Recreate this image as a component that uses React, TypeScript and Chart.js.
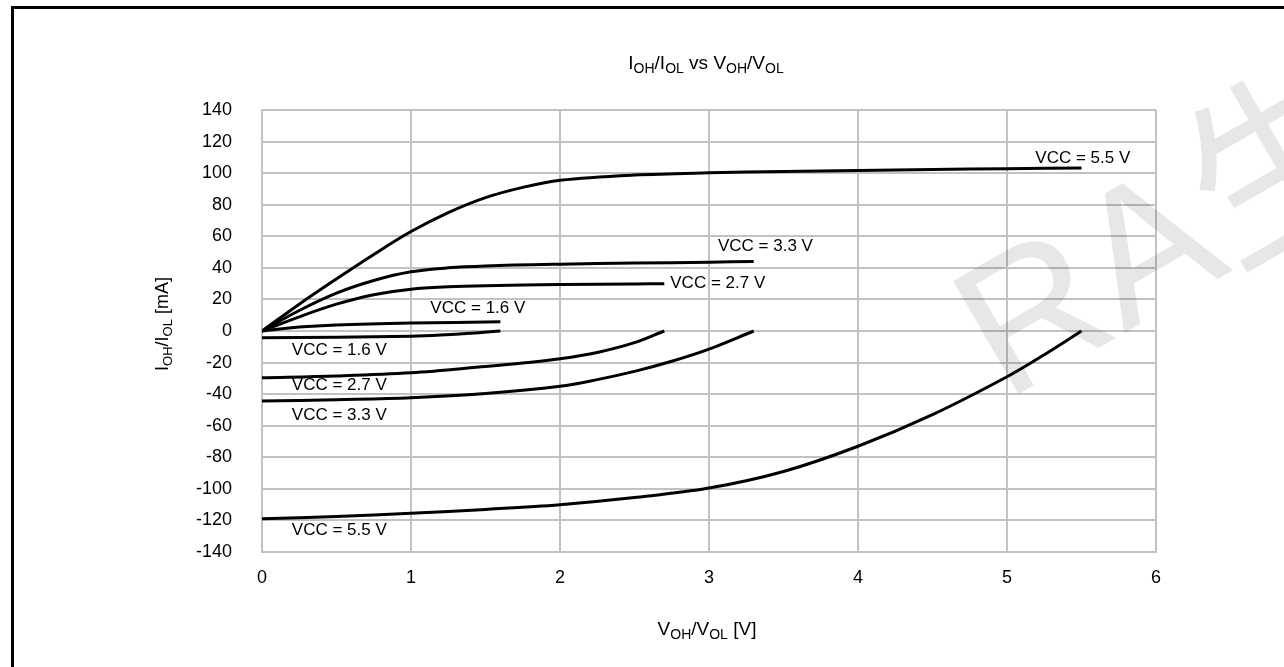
import React, { useEffect, useRef } from "react";
import { Chart, registerables } from "chart.js";

Chart.register(...registerables);

// ---- data ----
const xTickMin = 0;
const xTickMax = 6;
const xTickStep = 1;
const yTickMin = -140;
const yTickMax = 140;
const yTickStep = 20;

// source (positive) curves
const src55V = [0, 0.25, 0.5, 0.75, 1, 1.25, 1.5, 1.75, 2, 2.5, 3, 3.5, 4, 4.5, 5, 5.5];
const src55I = [0, 17, 33, 48.5, 63, 75, 84.5, 91, 95.5, 98.8, 100.2, 101, 101.7, 102.3, 102.8, 103.3];
const src33V = [0, 0.25, 0.5, 0.75, 1, 1.25, 1.5, 2, 2.5, 3, 3.3];
const src33I = [0, 13, 24, 32, 37.5, 40, 41.2, 42.3, 43, 43.6, 44];
const src27V = [0, 0.25, 0.5, 0.75, 1, 1.25, 1.5, 2, 2.5, 2.7];
const src27I = [0, 9, 17, 23, 26.5, 28, 28.7, 29.4, 29.8, 30];
const src16V = [0, 0.25, 0.5, 1, 1.6];
const src16I = [0, 2.5, 3.8, 5, 5.8];

// sink (negative) curves
const sink16V = [0, 0.5, 1, 1.2, 1.4, 1.6];
const sink16I = [-4.3, -4, -3.3, -2.6, -1.5, 0];
const sink27V = [0, 0.5, 1, 1.5, 1.75, 2, 2.25, 2.5, 2.7];
const sink27I = [-29.6, -28.5, -26.5, -22.5, -20.3, -17.6, -13.6, -7.4, 0];
const sink33V = [0, 0.5, 1, 1.5, 2, 2.25, 2.5, 2.75, 3, 3.3];
const sink33I = [-44.4, -43.5, -42.3, -39.6, -35, -30.8, -25.6, -19.2, -11.5, 0];
const sink55V = [0, 0.5, 1, 1.5, 2, 2.5, 3, 3.5, 4, 4.5, 5, 5.25, 5.5];
const sink55I = [-119, -117.5, -115.5, -113, -110, -105.5, -99.5, -89, -73, -53, -29, -15, 0];

// curve annotations (data coords of the left/middle of the text)
const labelTexts = [
  "VCC = 5.5 V",
  "VCC = 3.3 V",
  "VCC = 2.7 V",
  "VCC = 1.6 V",
  "VCC = 1.6 V",
  "VCC = 2.7 V",
  "VCC = 3.3 V",
  "VCC = 5.5 V",
];
const labelV = [5.19, 3.06, 2.74, 1.13, 0.2, 0.2, 0.2, 0.2];
const labelI = [109.6, 53.4, 30.4, 14.6, -12, -34.2, -53.2, -126.4];

const watermarkText = "RA生";

type Part = { t: string; sub?: boolean };
const titleParts: Part[] = [
  { t: "I" }, { t: "OH", sub: true }, { t: "/I" }, { t: "OL", sub: true },
  { t: " vs V" }, { t: "OH", sub: true }, { t: "/V" }, { t: "OL", sub: true },
];
const xTitleParts: Part[] = [
  { t: "V" }, { t: "OH", sub: true }, { t: "/V" }, { t: "OL", sub: true }, { t: " [V]" },
];
const yTitleParts: Part[] = [
  { t: "I" }, { t: "OH", sub: true }, { t: "/I" }, { t: "OL", sub: true }, { t: " [mA]" },
];

const FONT = '"Liberation Sans", Arial, sans-serif';

function pts(xs: number[], ys: number[]) {
  return xs.map((x, i) => ({ x, y: ys[i] }));
}

function drawRich(
  ctx: CanvasRenderingContext2D,
  parts: Part[],
  cx: number,
  baseline: number,
  mainSize: number,
  subSize: number,
  subShift: number
) {
  let w = 0;
  for (const p of parts) {
    ctx.font = `${p.sub ? subSize : mainSize}px ${FONT}`;
    w += ctx.measureText(p.t).width;
  }
  let x = cx - w / 2;
  ctx.textAlign = "left";
  ctx.textBaseline = "alphabetic";
  for (const p of parts) {
    ctx.font = `${p.sub ? subSize : mainSize}px ${FONT}`;
    ctx.fillText(p.t, x, baseline + (p.sub ? subShift : 0));
    x += ctx.measureText(p.t).width;
  }
}

const textPlugin = {
  id: "textPlugin",
  beforeDatasetsDraw(chart: any) {
    const ctx: CanvasRenderingContext2D = chart.ctx;
    const xs = chart.scales.x;
    const ys = chart.scales.y;
    ctx.save();
    ctx.fillStyle = "#000";
    ctx.font = `17px ${FONT}`;
    ctx.textAlign = "left";
    ctx.textBaseline = "middle";
    labelTexts.forEach((t, i) => {
      ctx.fillText(t, xs.getPixelForValue(labelV[i]), ys.getPixelForValue(labelI[i]));
    });
    ctx.restore();
  },
  afterDraw(chart: any) {
    const ctx: CanvasRenderingContext2D = chart.ctx;
    const area = chart.chartArea;
    const cx = (area.left + area.right) / 2;
    ctx.save();
    ctx.fillStyle = "#000";
    // title
    drawRich(ctx, titleParts, cx - 3, 69, 19, 14, 4);
    // x title
    drawRich(ctx, xTitleParts, cx - 2, 635, 19, 14, 4);
    // y title
    ctx.save();
    ctx.translate(168, 324);
    ctx.rotate(-Math.PI / 2);
    drawRich(ctx, yTitleParts, 0, 0, 18, 13, 4);
    ctx.restore();
    // watermark
    ctx.save();
    ctx.translate(1005, 402);
    ctx.rotate((-30 * Math.PI) / 180);
    ctx.fillStyle = "rgba(0,0,0,0.095)";
    ctx.font = `190px "Liberation Sans", "Noto Sans CJK SC", sans-serif`;
    ctx.textAlign = "left";
    ctx.textBaseline = "alphabetic";
    ctx.fillText(watermarkText, 0, 0);
    ctx.restore();
    ctx.restore();
  },
};

export default function App() {
  const ref = useRef<HTMLCanvasElement | null>(null);

  useEffect(() => {
    if (!ref.current) return;
    const lineDs = (xs: number[], ys: number[]) => ({
      data: pts(xs, ys),
      borderColor: "#000",
      backgroundColor: "#000",
      borderWidth: 3,
      pointRadius: 0,
      fill: false,
      tension: 0.35,
      borderCapStyle: "butt" as const,
    });
    const chart = new Chart(ref.current, {
      type: "line",
      data: {
        datasets: [
          lineDs(src55V, src55I),
          lineDs(src33V, src33I),
          lineDs(src27V, src27I),
          lineDs(src16V, src16I),
          lineDs(sink16V, sink16I),
          lineDs(sink27V, sink27I),
          lineDs(sink33V, sink33I),
          lineDs(sink55V, sink55I),
        ],
      },
      options: {
        animation: false,
        responsive: false,
        maintainAspectRatio: false,
        devicePixelRatio: 1,
        layout: { padding: { left: 0, top: 110, right: 128, bottom: 0 } },
        plugins: {
          legend: { display: false },
          tooltip: { enabled: false },
          title: { display: false },
        },
        scales: {
          x: {
            type: "linear",
            min: xTickMin,
            max: xTickMax,
            ticks: {
              stepSize: xTickStep,
              color: "#000",
              font: { family: FONT, size: 18 },
              padding: 15,
            },
            grid: { color: "#c2c2c2", lineWidth: 2, drawTicks: false },
            border: { color: "#c2c2c2", width: 2 },
            afterFit: (s: any) => {
              s.height = 115;
            },
          },
          y: {
            type: "linear",
            min: yTickMin,
            max: yTickMax,
            ticks: {
              stepSize: yTickStep,
              color: "#000",
              font: { family: FONT, size: 18 },
              padding: 30,
            },
            grid: { color: "#c2c2c2", lineWidth: 2, drawTicks: false },
            border: { color: "#c2c2c2", width: 2 },
            afterFit: (s: any) => {
              s.width = 262;
            },
          },
        },
      },
      plugins: [textPlugin],
    });
    return () => chart.destroy();
  }, []);

  return (
    <div
      style={{
        position: "fixed",
        left: 0,
        top: 0,
        width: 1284,
        height: 667,
        overflow: "hidden",
        background: "#fff",
      }}
    >
      <div
        style={{
          position: "absolute",
          left: 11,
          top: 6,
          width: 1400,
          height: 800,
          border: "3px solid #000",
        }}
      />
      <canvas
        ref={ref}
        width={1284}
        height={667}
        style={{ position: "absolute", left: 0, top: 0, width: 1284, height: 667 }}
      />
    </div>
  );
}
